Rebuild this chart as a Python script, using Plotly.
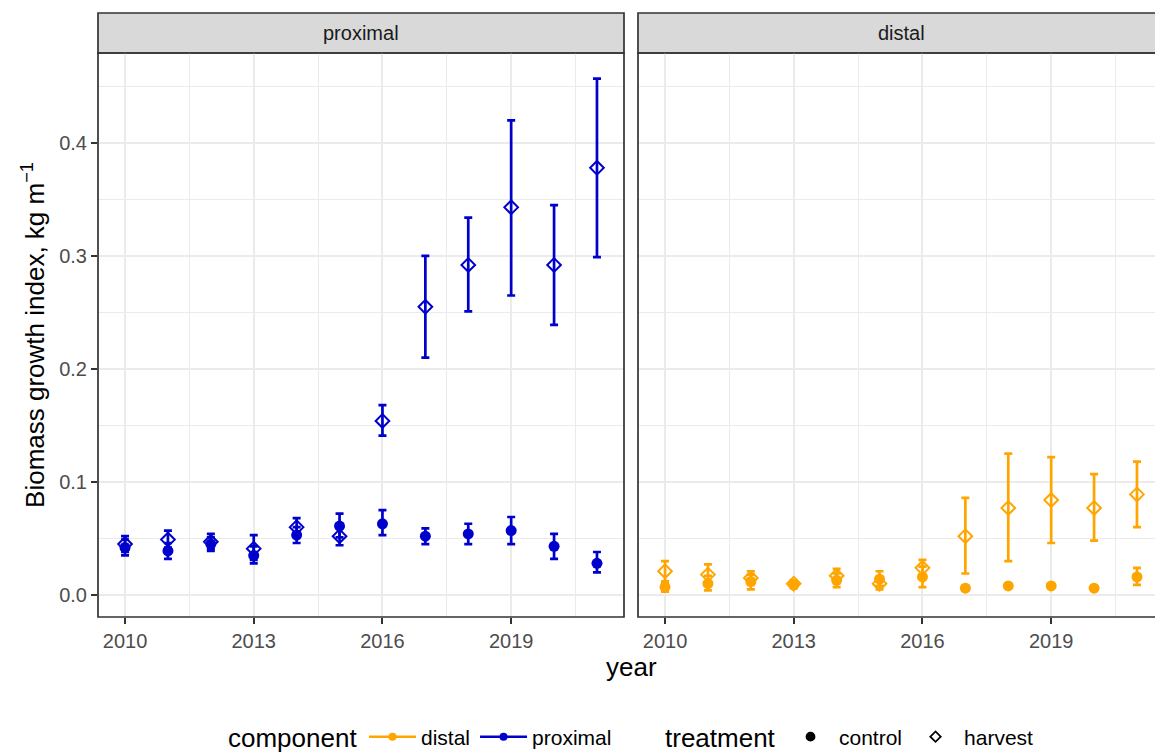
import plotly.graph_objects as go

# ---------------- data ----------------
years = [2010, 2011, 2012, 2013, 2014, 2015, 2016, 2017, 2018, 2019, 2020, 2021]

prox_control_mean = [0.042, 0.039, 0.045, 0.035, 0.053, 0.061, 0.063, 0.052, 0.054, 0.057, 0.043, 0.028]
prox_control_lo = [0.035, 0.032, 0.039, 0.028, 0.046, 0.051, 0.053, 0.045, 0.045, 0.045, 0.032, 0.020]
prox_control_hi = [0.049, 0.046, 0.051, 0.043, 0.060, 0.072, 0.075, 0.059, 0.063, 0.069, 0.054, 0.038]

prox_harvest_mean = [0.045, 0.049, 0.047, 0.041, 0.060, 0.052, 0.154, 0.255, 0.292, 0.343, 0.292, 0.378]
prox_harvest_lo = [0.038, 0.042, 0.041, 0.031, 0.052, 0.044, 0.141, 0.210, 0.251, 0.265, 0.239, 0.299]
prox_harvest_hi = [0.052, 0.057, 0.054, 0.053, 0.068, 0.061, 0.168, 0.300, 0.334, 0.420, 0.345, 0.457]

dist_control_mean = [0.007, 0.010, 0.012, 0.009, 0.013, 0.014, 0.016, 0.006, 0.008, 0.008, 0.006, 0.016]
dist_control_lo = [0.003, 0.004, 0.005, 0.006, 0.007, 0.008, 0.007, 0.004, 0.006, 0.006, 0.005, 0.009]
dist_control_hi = [0.011, 0.017, 0.018, 0.013, 0.019, 0.021, 0.025, 0.008, 0.010, 0.010, 0.007, 0.024]

dist_harvest_mean = [0.021, 0.018, 0.015, 0.010, 0.017, 0.010, 0.024, 0.052, 0.077, 0.084, 0.077, 0.089]
dist_harvest_lo = [0.012, 0.010, 0.009, 0.007, 0.011, 0.005, 0.017, 0.019, 0.030, 0.046, 0.048, 0.060]
dist_harvest_hi = [0.030, 0.027, 0.021, 0.013, 0.023, 0.016, 0.031, 0.086, 0.125, 0.122, 0.107, 0.118]

x_tick_vals = [2010, 2013, 2016, 2019]
y_tick_vals = [0.0, 0.1, 0.2, 0.3, 0.4]
y_tick_text = ["0.0", "0.1", "0.2", "0.3", "0.4"]
panel_labels = ["proximal", "distal"]
component_labels = ["distal", "proximal"]
treatment_labels = ["control", "harvest"]
legend_titles = ["component", "treatment"]

# ---------------- styling ----------------
FONT = "Liberation Sans, Arial, Helvetica, sans-serif"
BLUE = "#0000CD"
ORANGE = "#FFA500"
GRID = "#EBEBEB"
BORDER = "#333333"

W, H = 1155, 752
def px(v):
    return v / W
def py(v):
    return 1 - v / H

L_DOM = [px(98), px(624)]
R_DOM = [px(638), 1.0]
Y_DOM = [py(617), py(53)]
STRIP = [py(53), py(13)]

fig = go.Figure()

def add_series(xa, ya, mean, lo, hi, color, treatment):
    if treatment == "control":
        marker = dict(symbol="circle", size=11, color=color)
    else:
        marker = dict(symbol="diamond-open", size=10.5, color=color,
                      line=dict(width=2, color=color))
    fig.add_trace(go.Scatter(
        x=years, y=mean, mode="markers", xaxis=xa, yaxis=ya,
        marker=marker, showlegend=False,
        error_y=dict(type="data", symmetric=False,
                     array=[h - m for h, m in zip(hi, mean)],
                     arrayminus=[m - l for m, l in zip(mean, lo)],
                     color=color, thickness=2.7, width=4),
    ))

add_series("x", "y", prox_control_mean, prox_control_lo, prox_control_hi, BLUE, "control")
add_series("x", "y", prox_harvest_mean, prox_harvest_lo, prox_harvest_hi, BLUE, "harvest")
add_series("x2", "y2", dist_control_mean, dist_control_lo, dist_control_hi, ORANGE, "control")
add_series("x2", "y2", dist_harvest_mean, dist_harvest_lo, dist_harvest_hi, ORANGE, "harvest")

# legend-only traces
for name, col in zip(component_labels, [ORANGE, BLUE]):
    fig.add_trace(go.Scatter(
        x=[None], y=[None], mode="lines+markers", name=name, legend="legend",
        line=dict(color=col, width=2.5), marker=dict(color=col, size=8, symbol="circle")))
for name, sym in zip(treatment_labels, ["circle", "diamond-open"]):
    fig.add_trace(go.Scatter(
        x=[None], y=[None], mode="markers", name=name, legend="legend2",
        marker=dict(color="black", size=8, symbol=sym,
                    line=dict(width=1.8, color="black"))))

xaxis_common = dict(
    tickmode="array", tickvals=x_tick_vals, ticks="outside", ticklen=6, tickwidth=1.7,
    tickcolor=BORDER, tickfont=dict(size=20, color="#4D4D4D", family=FONT),
    showgrid=True, gridcolor=GRID, gridwidth=2, zeroline=False, showline=False,
    minor=dict(tickmode="array", tickvals=[2011.5, 2014.5, 2017.5, 2020.5],
               showgrid=True, gridcolor=GRID, gridwidth=1.1, ticks=""),
    fixedrange=True,
)
yaxis_common = dict(
    range=[-0.0195, 0.4796], tickmode="array", tickvals=y_tick_vals, ticktext=y_tick_text,
    showgrid=True, gridcolor=GRID, gridwidth=2, zeroline=False, showline=False,
    minor=dict(tickmode="array", tickvals=[0.05, 0.15, 0.25, 0.35, 0.45],
               showgrid=True, gridcolor=GRID, gridwidth=1.1, ticks=""),
    fixedrange=True,
)

legend_common = dict(
    orientation="h", xanchor="left", y=py(737), yanchor="middle",
    font=dict(size=21, color="black", family=FONT),
    bgcolor="rgba(0,0,0,0)", itemwidth=47,
)

fig.update_layout(
    width=W, height=H,
    margin=dict(l=0, r=0, t=0, b=0, autoexpand=False),
    paper_bgcolor="white", plot_bgcolor="white",
    font=dict(family=FONT, color="black"),
    xaxis=dict(xaxis_common, domain=L_DOM, range=[2009.37, 2021.63], anchor="y"),
    xaxis2=dict(xaxis_common, domain=R_DOM, range=[2009.37, 2021.42], anchor="y2"),
    yaxis=dict(yaxis_common, domain=Y_DOM, anchor="x",
               ticks="outside", ticklen=6, tickwidth=1.7, tickcolor=BORDER,
               tickfont=dict(size=20, color="#4D4D4D", family=FONT),
               title=dict(text="Biomass growth index, kg m<sup>−1</sup>",
                          font=dict(size=26, color="black", family=FONT), standoff=7)),
    yaxis2=dict(yaxis_common, domain=Y_DOM, anchor="x2", matches="y",
                showticklabels=False, ticks=""),
    legend=dict(legend_common, x=px(364)),
    legend2=dict(legend_common, x=px(782)),
    showlegend=True,
)

shapes = []
for dom, x1 in [(L_DOM, L_DOM[1]), (R_DOM, 1.02)]:
    # strip
    shapes.append(dict(type="rect", xref="paper", yref="paper", x0=dom[0], x1=x1,
                       y0=STRIP[0], y1=STRIP[1], fillcolor="#D9D9D9",
                       line=dict(color=BORDER, width=1.7), layer="below"))
    # panel border
    shapes.append(dict(type="rect", xref="paper", yref="paper", x0=dom[0], x1=x1,
                       y0=Y_DOM[0], y1=Y_DOM[1], fillcolor="rgba(0,0,0,0)",
                       line=dict(color=BORDER, width=1.7), layer="above"))
fig.update_layout(shapes=shapes)

annotations = [
    dict(text=panel_labels[0], xref="paper", yref="paper", x=(L_DOM[0] + L_DOM[1]) / 2,
         y=(STRIP[0] + STRIP[1]) / 2, showarrow=False,
         font=dict(size=20, color="#1A1A1A", family=FONT), xanchor="center", yanchor="middle"),
    dict(text=panel_labels[1], xref="paper", yref="paper", x=px(901),
         y=(STRIP[0] + STRIP[1]) / 2, showarrow=False,
         font=dict(size=20, color="#1A1A1A", family=FONT), xanchor="center", yanchor="middle"),
    dict(text="year", xref="paper", yref="paper", x=px(631), y=py(667), showarrow=False,
         font=dict(size=26, color="black", family=FONT), xanchor="center", yanchor="middle"),
    dict(text=legend_titles[0], xref="paper", yref="paper", x=px(226), y=py(738),
         showarrow=False, font=dict(size=26, color="black", family=FONT),
         xanchor="left", yanchor="middle"),
    dict(text=legend_titles[1], xref="paper", yref="paper", x=px(663), y=py(738),
         showarrow=False, font=dict(size=26, color="black", family=FONT),
         xanchor="left", yanchor="middle"),
]
fig.update_layout(annotations=annotations)

fig.write_html("out.html")
